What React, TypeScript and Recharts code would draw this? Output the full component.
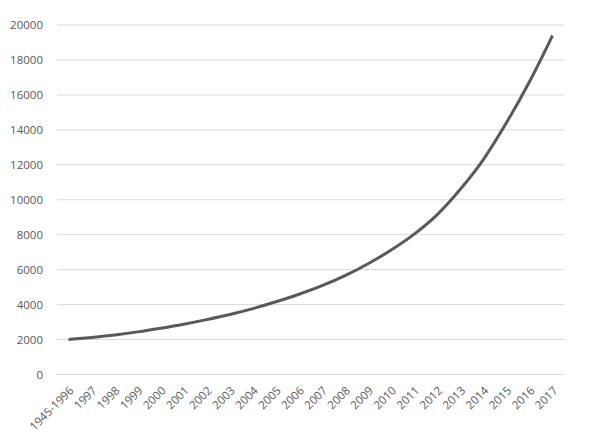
import { LineChart, Line, XAxis, YAxis, CartesianGrid } from 'recharts'

const years = [
  '1945-1996', '1997', '1998', '1999', '2000', '2001', '2002', '2003', '2004', '2005', '2006',
  '2007', '2008', '2009', '2010', '2011', '2012', '2013', '2014', '2015', '2016', '2017',
]
const totals = [
  2000, 2120, 2260, 2440, 2650, 2880, 3140, 3430, 3770, 4160, 4590,
  5080, 5660, 6340, 7120, 8030, 9150, 10600, 12300, 14400, 16750, 19400,
]
const yTicks = [0, 2000, 4000, 6000, 8000, 10000, 12000, 14000, 16000, 18000, 20000]

const data = years.map((y, i) => ({ year: y, total: totals[i] }))

const font = '"Open Sans", "Noto Sans", sans-serif'

function YearTick({ x, y, payload }: any) {
  return (
    <g transform={`translate(${x + 3},${y + 6})`}>
      <text
        x={0}
        y={0}
        dy="0.35em"
        textAnchor="end"
        transform="rotate(-45)"
        fill="#595959"
        fontSize={11.5}
        fontFamily={font}
      >
        {payload.value}
      </text>
    </g>
  )
}

export default function App() {
  return (
    <div style={{ position: 'absolute', left: 0, top: 0, background: '#fff' }}>
      <LineChart
        width={601}
        height={443}
        data={data}
        margin={{ top: 25, right: 37, left: 7, bottom: 8.5 }}
      >
        <CartesianGrid vertical={false} stroke="#d9d9d9" strokeWidth={1} />
        <XAxis
          dataKey="year"
          interval={0}
          height={60}
          axisLine={false}
          tickLine={false}
          tick={<YearTick />}
          padding={{ left: 11.5, right: 11.5 }}
        />
        <YAxis
          width={50}
          domain={[0, 20000]}
          ticks={yTicks}
          axisLine={false}
          tickLine={false}
          tickMargin={8}
          tick={{ fill: '#595959', fontSize: 11.5, fontFamily: font }}
        />
        <Line
          type="monotone"
          dataKey="total"
          stroke="#595959"
          strokeWidth={3}
          dot={false}
          isAnimationActive={false}
        />
      </LineChart>
    </div>
  )
}
